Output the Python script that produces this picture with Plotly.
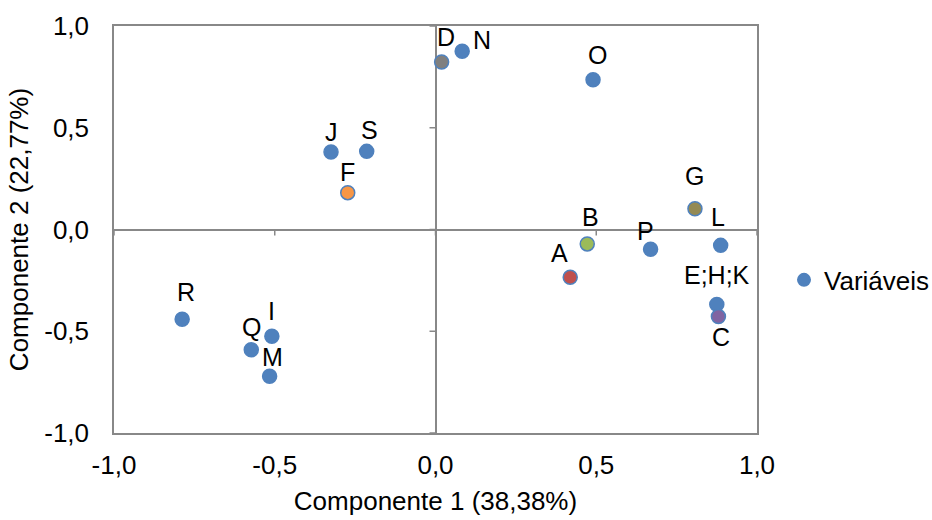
import plotly.graph_objects as go

# ---- data ----
labels = ["E;H;K", "I", "J", "L", "M", "N", "O", "P", "Q", "R", "S",
          "A", "B", "C", "D", "F", "G"]
comp1 = [0.875, -0.509, -0.325, 0.887, -0.516, 0.083, 0.490, 0.669, -0.573,
         -0.788, -0.214, 0.419, 0.472, 0.880, 0.019, -0.273, 0.807]
comp2 = [-0.368, -0.525, 0.381, -0.078, -0.721, 0.876, 0.736, -0.097, -0.591,
         -0.441, 0.384, -0.235, -0.071, -0.428, 0.823, 0.181, 0.102]
tick_vals = [-1.0, -0.5, 0.0, 0.5, 1.0]
tick_text = ["-1,0", "-0,5", "0,0", "0,5", "1,0"]
series_name = "Variáveis"
x_title = "Componente 1 (38,38%)"
y_title = "Componente 2 (22,77%)"

# ---- styles ----
BLUE = "#4F81BD"
fill_colors = {"A": "#C0504D", "B": "#9BBB59", "C": "#8064A2", "D": "#7F7F7F",
               "F": "#F79646", "G": "#948A54"}
# label offsets in pixels (dx right, dy up) relative to the point
label_shift = {"E;H;K": (0, 27), "I": (0, 23), "J": (0, 18), "L": (-3, 26),
               "M": (3, 17), "N": (20, 9), "O": (4, 23), "P": (-5, 16),
               "Q": (0, 21), "R": (4, 25), "S": (3, 19), "A": (-11, 22),
               "B": (3, 25), "C": (3, -22), "D": (4, 23), "F": (0, 19),
               "G": (0, 31)}
FONT = "Liberation Sans, Arial, sans-serif"
FS = 26
GRID = "#888888"

colors = [fill_colors.get(l, BLUE) for l in labels]

fig = go.Figure()
fig.add_trace(go.Scatter(
    x=comp1, y=comp2, mode="markers", name=series_name,
    marker=dict(size=14, color=colors, line=dict(color=BLUE, width=1.5)),
    showlegend=True, hoverinfo="text", text=labels,
))

for lab, xv, yv in zip(labels, comp1, comp2):
    dx, dy = label_shift[lab]
    fig.add_annotation(x=xv, y=yv, text=lab, showarrow=False,
                       xanchor="center", yanchor="middle",
                       xshift=dx, yshift=dy + 2,
                       font=dict(family=FONT, size=25, color="black"))

# tick marks on the zero axes
for v in tick_vals:
    fig.add_shape(type="line", xref="x", yref="y", x0=v, x1=v,
                  ysizemode="pixel", yanchor=0, y0=0, y1=-6,
                  line=dict(color=GRID, width=1.5))
    fig.add_shape(type="line", xref="x", yref="y", y0=v, y1=v,
                  xsizemode="pixel", xanchor=0, x0=0, x1=-6,
                  line=dict(color=GRID, width=1.5))

fig.update_layout(
    width=932, height=520,
    margin=dict(l=114, r=175, t=26, b=87, autoexpand=False),
    paper_bgcolor="white", plot_bgcolor="white",
    font=dict(family=FONT, size=FS, color="black"),
    legend=dict(x=1.042, y=0.376, xanchor="left", yanchor="middle",
                font=dict(family=FONT, size=FS, color="black"),
                bgcolor="rgba(0,0,0,0)", itemsizing="constant"),
    xaxis=dict(range=[-1, 1], tickvals=tick_vals, ticktext=tick_text,
               showgrid=False, zeroline=True, zerolinecolor=GRID,
               zerolinewidth=1.5, showline=True, linecolor=GRID,
               linewidth=1.5, mirror=True, ticks="",
               ticklabelstandoff=8, automargin=False,
               tickfont=dict(family=FONT, size=FS, color="black"),
               title=dict(text=x_title, standoff=13,
                          font=dict(family=FONT, size=FS, color="black"))),
    yaxis=dict(range=[-1, 1], tickvals=tick_vals, ticktext=tick_text,
               showgrid=False, zeroline=True, zerolinecolor=GRID,
               zerolinewidth=1.5, showline=True, linecolor=GRID,
               linewidth=1.5, mirror=True, ticks="",
               ticklabelstandoff=18, automargin=False,
               tickfont=dict(family=FONT, size=FS, color="black"),
               title=dict(text=y_title, standoff=8,
                          font=dict(family=FONT, size=FS, color="black"))),
)

fig.write_html(
    "out.html",
    config={"displayModeBar": False},
    post_script="document.body.style.margin='0';"
                "document.body.style.overflow='hidden';",
)
